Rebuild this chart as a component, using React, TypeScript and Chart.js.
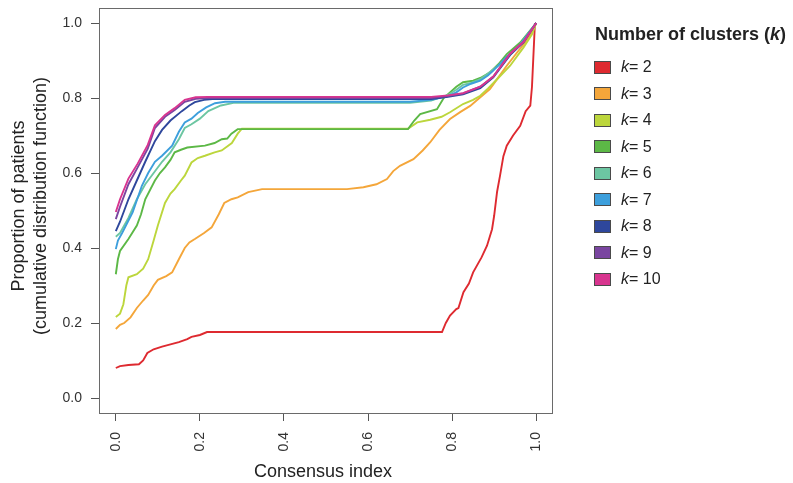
import React, { useEffect, useRef } from "react";
import { Chart, registerables } from "chart.js";

Chart.register(...registerables);

// ---------- data ----------
const X_TICKS = [0, 0.2, 0.4, 0.6, 0.8, 1.0];
const Y_TICKS = [0, 0.2, 0.4, 0.6, 0.8, 1.0];
const X_TITLE = "Consensus index";
const Y_TITLE = ["Proportion of patients", "(cumulative distribution function)"];
const LEGEND_TITLE = "Number of clusters";
const K_LABELS = ["2", "3", "4", "5", "6", "7", "8", "9", "10"];
const K_COLORS = [
  "#de2a30",
  "#f4a63a",
  "#bcd63c",
  "#5cb846",
  "#6cc6a2",
  "#3d9fdc",
  "#2e479c",
  "#7a45a0",
  "#d8358f",
];

const k2: [number, number][] = [
  [0, 0.08], [0.01, 0.085], [0.03, 0.088], [0.055, 0.09], [0.065, 0.1], [0.075, 0.12],
  [0.09, 0.13], [0.11, 0.137], [0.13, 0.143], [0.15, 0.149], [0.17, 0.157], [0.18, 0.163],
  [0.2, 0.168], [0.217, 0.176], [0.776, 0.176], [0.785, 0.2], [0.795, 0.22], [0.81, 0.237],
  [0.815, 0.24], [0.827, 0.282], [0.84, 0.305], [0.85, 0.335], [0.87, 0.375], [0.883, 0.406],
  [0.895, 0.45], [0.9, 0.486], [0.907, 0.55], [0.914, 0.593], [0.922, 0.645], [0.93, 0.673],
  [0.945, 0.7], [0.962, 0.726], [0.975, 0.765], [0.986, 0.78], [0.99, 0.83], [0.997, 1.0],
];
const k3: [number, number][] = [
  [0, 0.184], [0.01, 0.195], [0.02, 0.2], [0.035, 0.215], [0.05, 0.24], [0.065, 0.26],
  [0.077, 0.275], [0.09, 0.3], [0.1, 0.315], [0.12, 0.325], [0.134, 0.335], [0.15, 0.37],
  [0.164, 0.4], [0.175, 0.415], [0.188, 0.424], [0.21, 0.44], [0.228, 0.455], [0.245, 0.49],
  [0.258, 0.52], [0.275, 0.53], [0.29, 0.535], [0.315, 0.549], [0.348, 0.557], [0.55, 0.557],
  [0.589, 0.562], [0.62, 0.57], [0.645, 0.584], [0.66, 0.605], [0.676, 0.619], [0.708, 0.637],
  [0.73, 0.66], [0.748, 0.682], [0.77, 0.715], [0.795, 0.744], [0.82, 0.763], [0.843, 0.779],
  [0.865, 0.8], [0.89, 0.824], [0.91, 0.855], [0.93, 0.886], [0.955, 0.922], [0.975, 0.95],
  [0.99, 0.975], [1, 1],
];
const k4: [number, number][] = [
  [0, 0.216], [0.01, 0.225], [0.018, 0.25], [0.025, 0.3], [0.03, 0.322], [0.05, 0.33],
  [0.065, 0.345], [0.077, 0.37], [0.09, 0.42], [0.1, 0.46], [0.117, 0.52], [0.13, 0.545],
  [0.14, 0.557], [0.155, 0.58], [0.164, 0.593], [0.18, 0.628], [0.195, 0.64], [0.212, 0.646],
  [0.235, 0.655], [0.252, 0.66], [0.276, 0.68], [0.29, 0.705], [0.3, 0.718], [0.695, 0.718],
  [0.717, 0.735], [0.748, 0.742], [0.775, 0.75], [0.795, 0.762], [0.826, 0.784], [0.85, 0.795],
  [0.867, 0.806], [0.885, 0.825], [0.907, 0.85], [0.938, 0.886], [0.97, 0.935], [0.99, 0.97],
  [1, 1],
];
const k5: [number, number][] = [
  [0, 0.33], [0.005, 0.37], [0.01, 0.392], [0.03, 0.424], [0.05, 0.46], [0.06, 0.49],
  [0.07, 0.53], [0.093, 0.58], [0.105, 0.6], [0.117, 0.615], [0.13, 0.635], [0.14, 0.655],
  [0.155, 0.662], [0.17, 0.668], [0.212, 0.673], [0.235, 0.68], [0.252, 0.69], [0.265, 0.692],
  [0.275, 0.705], [0.29, 0.717], [0.695, 0.717], [0.71, 0.74], [0.724, 0.757], [0.764, 0.77],
  [0.78, 0.8], [0.795, 0.815], [0.81, 0.83], [0.826, 0.842], [0.85, 0.846], [0.87, 0.855],
  [0.89, 0.868], [0.91, 0.89], [0.93, 0.917], [0.962, 0.948], [1, 1],
];
const k6: [number, number][] = [
  [0, 0.43], [0.01, 0.44], [0.03, 0.48], [0.05, 0.53], [0.07, 0.57], [0.09, 0.6],
  [0.11, 0.63], [0.13, 0.655], [0.15, 0.69], [0.164, 0.72], [0.18, 0.73], [0.2, 0.745],
  [0.22, 0.765], [0.25, 0.78], [0.28, 0.787], [0.7, 0.787], [0.75, 0.793], [0.79, 0.808],
  [0.81, 0.822], [0.826, 0.835], [0.845, 0.84], [0.867, 0.85], [0.885, 0.865], [0.9, 0.878],
  [0.93, 0.905], [0.96, 0.94], [1, 1],
];
const k7: [number, number][] = [
  [0, 0.397], [0.005, 0.42], [0.015, 0.44], [0.04, 0.495], [0.062, 0.566], [0.077, 0.6],
  [0.093, 0.63], [0.11, 0.646], [0.134, 0.673], [0.15, 0.71], [0.164, 0.735], [0.18, 0.745],
  [0.195, 0.76], [0.215, 0.775], [0.236, 0.786], [0.26, 0.79], [0.7, 0.79], [0.75, 0.795],
  [0.79, 0.805], [0.81, 0.815], [0.826, 0.828], [0.845, 0.838], [0.867, 0.846], [0.885, 0.86],
  [0.898, 0.873], [0.93, 0.91], [0.96, 0.94], [1, 1],
];
const k8: [number, number][] = [
  [0, 0.445], [0.01, 0.47], [0.03, 0.53], [0.05, 0.58], [0.07, 0.63], [0.093, 0.685],
  [0.11, 0.715], [0.13, 0.74], [0.157, 0.765], [0.175, 0.78], [0.188, 0.789], [0.21, 0.795],
  [0.23, 0.797], [0.75, 0.797], [0.79, 0.803], [0.826, 0.81], [0.867, 0.826], [0.898, 0.855],
  [0.938, 0.915], [0.97, 0.948], [1, 1],
];
const k9: [number, number][] = [
  [0, 0.477], [0.01, 0.51], [0.03, 0.57], [0.052, 0.615], [0.076, 0.665], [0.093, 0.72],
  [0.117, 0.75], [0.14, 0.768], [0.164, 0.79], [0.19, 0.798], [0.22, 0.8], [0.75, 0.8],
  [0.79, 0.805], [0.826, 0.812], [0.867, 0.83], [0.898, 0.857], [0.938, 0.918], [0.97, 0.95],
  [1, 1],
];
const k10: [number, number][] = [
  [0, 0.496], [0.01, 0.53], [0.03, 0.585], [0.052, 0.625], [0.076, 0.675], [0.093, 0.727],
  [0.117, 0.755], [0.14, 0.773], [0.164, 0.795], [0.19, 0.802], [0.22, 0.803], [0.75, 0.803],
  [0.79, 0.807], [0.826, 0.813], [0.867, 0.83], [0.898, 0.857], [0.938, 0.918], [0.97, 0.95],
  [1, 1],
];
const SERIES = [k2, k3, k4, k5, k6, k7, k8, k9, k10];

// ---------- styling ----------
const FONT = "'Liberation Sans', Arial, Helvetica, sans-serif";

export default function App() {
  const canvasRef = useRef<HTMLCanvasElement>(null);

  useEffect(() => {
    const canvas = canvasRef.current;
    if (!canvas) return;

    const framePlugin = {
      id: "frameAndTitles",
      afterDraw(chart: any) {
        const { ctx, chartArea } = chart;
        const { left, top, right, bottom } = chartArea;
        ctx.save();
        ctx.strokeStyle = "#6a6a6a";
        ctx.lineWidth = 1;
        ctx.strokeRect(
          Math.round(left) + 0.5,
          Math.round(top) + 0.5,
          Math.round(right - left) - 1,
          Math.round(bottom - top)
        );
        ctx.fillStyle = "#222";
        ctx.font = `18px ${FONT}`;
        ctx.textAlign = "center";
        ctx.textBaseline = "alphabetic";
        ctx.fillText(X_TITLE, (left + right) / 2 - 3, 477);
        ctx.translate(0, 206);
        ctx.rotate(-Math.PI / 2);
        ctx.fillText(Y_TITLE[0], 0, 24);
        ctx.fillText(Y_TITLE[1], 0, 46);
        ctx.restore();
      },
    };

    const zeroPad = (s: any) => {
      s.paddingTop = 0;
      s.paddingBottom = 0;
      s.paddingLeft = 0;
      s.paddingRight = 0;
    };

    const chart = new Chart(canvas, {
      type: "line",
      data: {
        datasets: SERIES.map((pts, i) => ({
          label: "k= " + K_LABELS[i],
          data: pts.map(([x, y]) => ({ x, y })),
          borderColor: K_COLORS[i],
          backgroundColor: K_COLORS[i],
          borderWidth: 1.9,
          pointRadius: 0,
          tension: 0,
          fill: false,
          order: SERIES.length - i,
        })),
      },
      options: {
        responsive: false,
        animation: false,
        devicePixelRatio: 1,
        layout: { padding: { left: 0, top: 8, right: 240, bottom: 0 } },
        plugins: {
          legend: { display: false },
          tooltip: { enabled: false },
        },
        scales: {
          x: {
            type: "linear",
            min: -0.04,
            max: 1.04,
            afterBuildTicks: (s: any) => {
              s.ticks = X_TICKS.map((v) => ({ value: v }));
            },
            afterFit: (s: any) => {
              s.height = 70;
              zeroPad(s);
            },
            grid: {
              drawOnChartArea: false,
              drawTicks: true,
              tickLength: 8,
              color: "#555",
              lineWidth: 1,
            },
            border: { display: false },
            ticks: {
              autoSkip: false,
              minRotation: 90,
              maxRotation: 90,
              padding: 11,
              color: "#333",
              font: { family: FONT, size: 14 },
              callback: (v: any) => Number(v).toFixed(1),
            },
          },
          y: {
            type: "linear",
            min: -0.04,
            max: 1.04,
            afterBuildTicks: (s: any) => {
              s.ticks = Y_TICKS.map((v) => ({ value: v }));
            },
            afterFit: (s: any) => {
              s.width = 99;
              zeroPad(s);
            },
            grid: {
              drawOnChartArea: false,
              drawTicks: true,
              tickLength: 8,
              color: "#555",
              lineWidth: 1,
            },
            border: { display: false },
            ticks: {
              autoSkip: false,
              padding: 9,
              color: "#333",
              font: { family: FONT, size: 14 },
              callback: (v: any) => Number(v).toFixed(1),
            },
          },
        },
      },
      plugins: [framePlugin],
    } as any);

    return () => chart.destroy();
  }, []);

  return (
    <div
      style={{
        position: "absolute",
        left: 0,
        top: 0,
        width: 793,
        height: 483,
        background: "#fff",
        fontFamily: FONT,
      }}
    >
      <canvas
        ref={canvasRef}
        width={793}
        height={483}
        style={{ position: "absolute", left: 0, top: 0, width: 793, height: 483 }}
      />
      <div
        style={{
          position: "absolute",
          left: 595,
          top: 24.5,
          fontSize: 18,
          lineHeight: "18px",
          fontWeight: "bold",
          color: "#222",
          whiteSpace: "nowrap",
        }}
      >
        {LEGEND_TITLE} (<i>k</i>)
      </div>
      {K_LABELS.map((lab, i) => {
        const cy = 67 + i * 26.5;
        return (
          <React.Fragment key={lab}>
            <div
              style={{
                position: "absolute",
                left: 594,
                top: cy - 6.5,
                width: 17,
                height: 13,
                boxSizing: "border-box",
                background: K_COLORS[i],
                border: "1.5px solid #4a4a4a",
              }}
            />
            <div
              style={{
                position: "absolute",
                left: 621,
                top: cy - 8,
                fontSize: 16,
                lineHeight: "16px",
                color: "#222",
                whiteSpace: "nowrap",
              }}
            >
              <i>k</i>= {lab}
            </div>
          </React.Fragment>
        );
      })}
    </div>
  );
}
